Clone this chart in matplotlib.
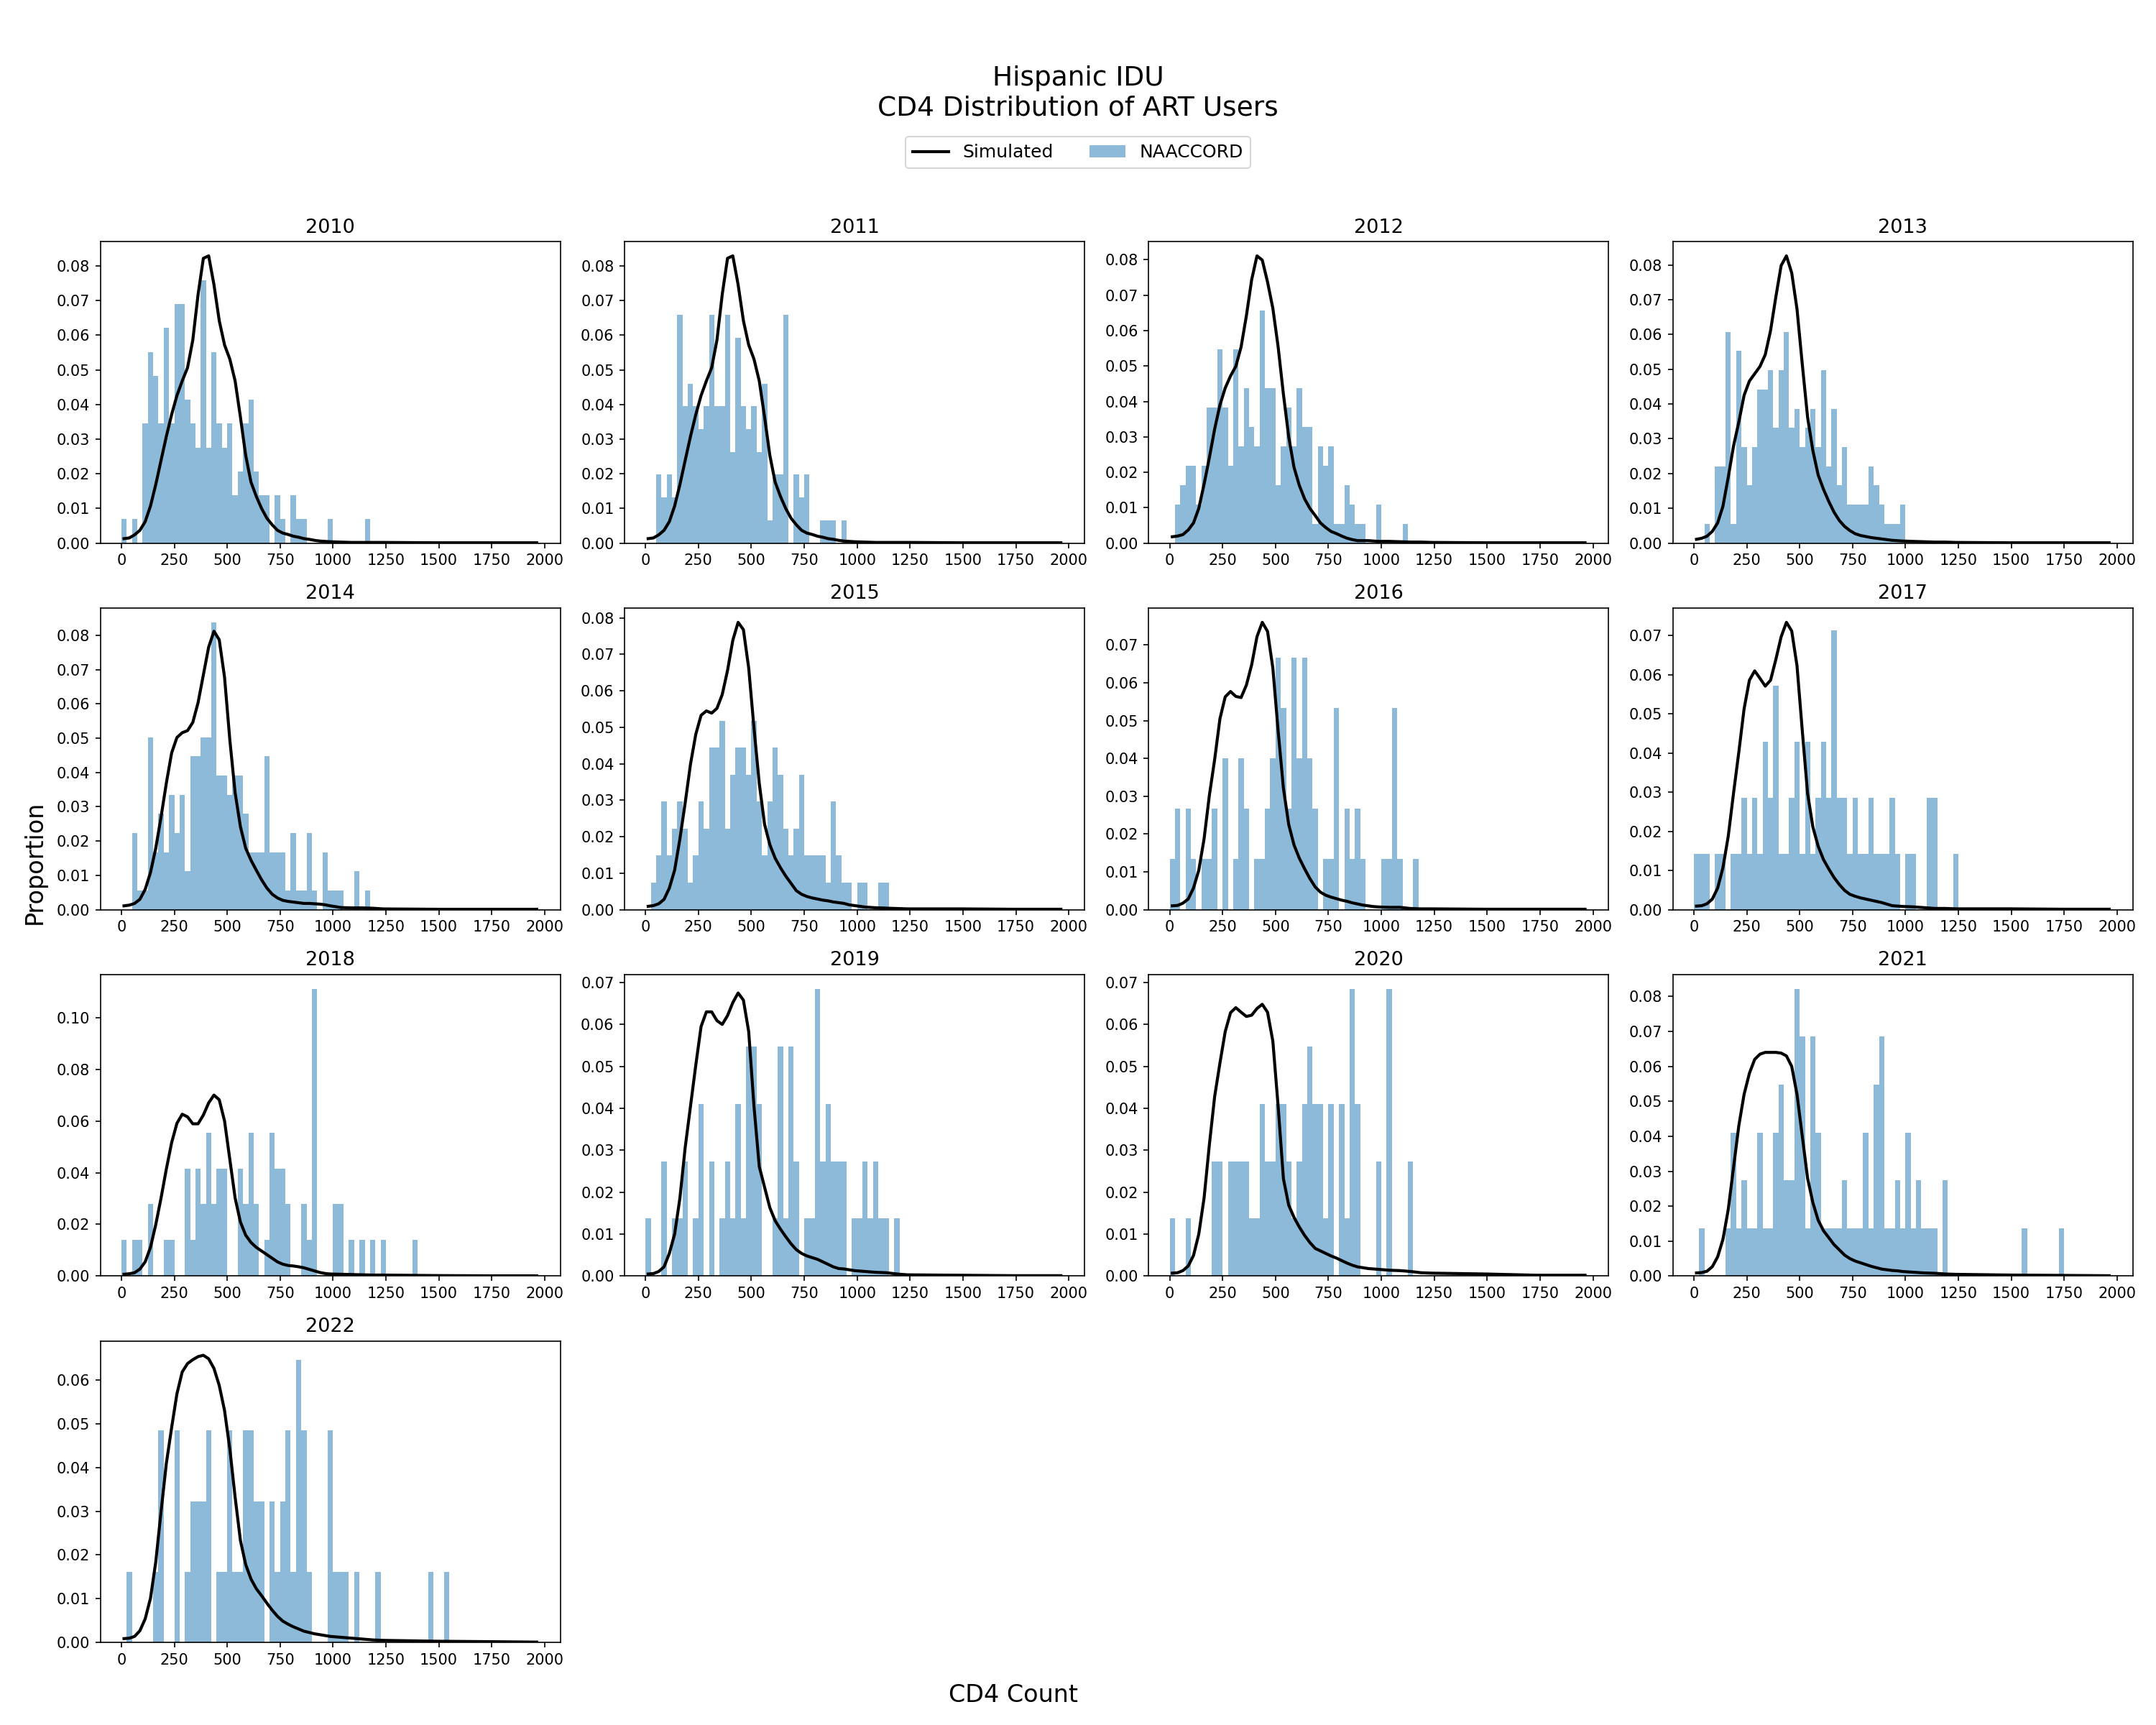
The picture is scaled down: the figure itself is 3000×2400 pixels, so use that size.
import matplotlib
matplotlib.use('Agg')
import matplotlib.pyplot as plt
import numpy as np

# ---------- DATA ----------
years = [2010, 2011, 2012, 2013, 2014, 2015, 2016, 2017, 2018, 2019, 2020, 2021, 2022]

# NAACCORD: number of patients per 25-cell CD4 bin (bin 0 = 0-25, bin 1 = 25-50, ...)
counts_2010 = [1, 0, 1, 0, 5, 8, 7, 5, 9, 5, 10, 10, 6, 5, 4, 11, 4, 8, 5, 4,
               5, 2, 3, 5, 6, 3, 2, 2, 0, 2, 1, 0, 2, 1, 1, 0, 0, 0, 0, 1,
               0, 0, 0, 0, 0, 0, 1]
counts_2011 = [0, 0, 3, 2, 3, 2, 10, 6, 7, 6, 5, 6, 10, 6, 6, 10, 4, 9, 6, 5,
               6, 4, 7, 1, 3, 3, 10, 0, 3, 2, 3, 0, 0, 1, 1, 1, 0, 1]
counts_2012 = [0, 2, 3, 4, 4, 2, 4, 7, 7, 10, 7, 4, 10, 5, 8, 6, 5, 12, 8, 8,
               3, 5, 7, 5, 8, 6, 6, 1, 5, 4, 5, 1, 1, 3, 2, 1, 1, 0, 0, 2,
               0, 0, 0, 0, 1]
counts_2013 = [0, 0, 1, 0, 4, 4, 11, 1, 10, 5, 3, 5, 8, 8, 9, 6, 9, 11, 6, 7,
               5, 6, 7, 5, 9, 4, 7, 3, 5, 2, 2, 2, 2, 4, 3, 2, 1, 1, 1, 2]
counts_2014 = [0, 0, 4, 1, 1, 9, 3, 5, 3, 6, 4, 6, 2, 8, 8, 9, 9, 15, 7, 7,
               6, 7, 7, 5, 3, 3, 3, 8, 3, 3, 3, 1, 4, 1, 1, 4, 1, 0, 3, 1,
               1, 1, 0, 0, 2, 0, 1]
counts_2015 = [0, 1, 2, 4, 2, 3, 4, 3, 1, 2, 4, 3, 6, 6, 7, 3, 5, 6, 6, 5,
               7, 4, 2, 4, 6, 5, 3, 2, 3, 5, 2, 2, 2, 2, 1, 4, 2, 1, 1, 0,
               1, 1, 0, 0, 1, 1]
counts_2016 = [1, 2, 0, 2, 1, 0, 1, 1, 2, 0, 3, 0, 1, 3, 2, 0, 1, 1, 2, 3,
               5, 4, 2, 5, 3, 5, 3, 2, 0, 1, 1, 4, 0, 2, 1, 2, 1, 0, 0, 0,
               1, 1, 4, 1, 0, 0, 1]
counts_2017 = [1, 1, 1, 0, 1, 1, 0, 1, 1, 2, 1, 2, 1, 3, 2, 4, 1, 1, 2, 3,
               1, 3, 1, 2, 3, 2, 5, 2, 2, 1, 2, 1, 1, 2, 1, 1, 1, 2, 1, 0,
               1, 1, 0, 0, 2, 2, 0, 0, 0, 1]
counts_2018 = [1, 0, 1, 1, 0, 2, 0, 0, 1, 1, 0, 0, 3, 1, 3, 2, 4, 2, 3, 3,
               0, 0, 3, 2, 4, 2, 0, 1, 4, 3, 3, 2, 0, 0, 2, 1, 8, 0, 0, 0,
               2, 2, 0, 1, 0, 1, 0, 1, 0, 1, 0, 0, 0, 0, 0, 1]
counts_2019 = [1, 0, 0, 2, 0, 1, 1, 2, 0, 1, 3, 0, 2, 0, 1, 2, 1, 3, 1, 4,
               4, 3, 0, 0, 1, 4, 1, 4, 2, 0, 1, 1, 5, 2, 3, 2, 2, 2, 0, 1,
               1, 2, 1, 2, 1, 1, 0, 1]
counts_2020 = [1, 0, 0, 1, 0, 0, 0, 0, 2, 2, 0, 2, 2, 2, 2, 1, 1, 3, 2, 2,
               3, 3, 2, 1, 2, 3, 4, 3, 3, 1, 3, 0, 3, 1, 5, 3, 0, 0, 0, 2,
               0, 5, 0, 0, 0, 2]
counts_2021 = [0, 1, 0, 0, 0, 0, 1, 3, 1, 2, 1, 1, 3, 1, 1, 3, 4, 2, 2, 6,
               5, 1, 5, 3, 1, 1, 1, 1, 2, 1, 1, 1, 3, 1, 4, 5, 1, 1, 2, 1,
               3, 1, 2, 1, 1, 1, 0, 2, 0, 0, 0, 0, 0, 0, 0, 0, 0, 0, 0, 0,
               0, 0, 1, 0, 0, 0, 0, 0, 0, 1]
counts_2022 = [0, 1, 0, 0, 0, 0, 1, 3, 0, 0, 3, 0, 1, 2, 2, 2, 3, 0, 1, 1,
               3, 1, 1, 3, 3, 2, 2, 0, 2, 1, 2, 3, 1, 4, 3, 1, 0, 0, 0, 3,
               1, 1, 1, 0, 1, 0, 0, 0, 1, 0, 0, 0, 0, 0, 0, 0, 0, 0, 1, 0,
               0, 1]

# NAACCORD patients per year (denominator of the proportions)
n_patients = [145, 152, 183, 181, 179, 135, 75, 70, 72, 73, 73, 73, 62]

# Simulated CD4 distribution, evaluated at these CD4 counts
sim_cd4 = np.r_[np.arange(12.5, 1000, 25),
                [1037.5, 1087.5, 1137.5, 1187.5, 1237.5, 1487.5, 1737.5, 1962.5]]

sim_2010 = [0.0013, 0.0015, 0.0024, 0.0037, 0.0062, 0.0107, 0.0169, 0.0239, 0.0308, 0.0371,
            0.0426, 0.0468, 0.0506, 0.0586, 0.0718, 0.0822, 0.0829, 0.0746, 0.0642, 0.0572,
            0.0531, 0.0468, 0.0364, 0.0253, 0.0176, 0.0135, 0.0100, 0.0072, 0.0053, 0.0037,
            0.0029, 0.0025, 0.0020, 0.0017, 0.0013, 0.0011, 0.0008, 0.0006, 0.0005, 0.0004,
            0.0003, 0.0002, 0.0002, 0.0002, 0.0002, 0.0001, 0.0001, 0.0001]
sim_2011 = [0.0013, 0.0015, 0.0024, 0.0037, 0.0062, 0.0107, 0.0169, 0.0239, 0.0308, 0.0371,
            0.0426, 0.0468, 0.0506, 0.0586, 0.0718, 0.0822, 0.0829, 0.0746, 0.0642, 0.0572,
            0.0531, 0.0468, 0.0364, 0.0253, 0.0176, 0.0135, 0.0100, 0.0072, 0.0053, 0.0037,
            0.0029, 0.0025, 0.0020, 0.0017, 0.0013, 0.0011, 0.0008, 0.0006, 0.0005, 0.0004,
            0.0003, 0.0002, 0.0002, 0.0002, 0.0002, 0.0001, 0.0001, 0.0001]
sim_2012 = [0.0018, 0.0020, 0.0024, 0.0037, 0.0057, 0.0098, 0.0166, 0.0241, 0.0322, 0.0390,
            0.0438, 0.0472, 0.0499, 0.0554, 0.0642, 0.0744, 0.0811, 0.0799, 0.0737, 0.0663,
            0.0554, 0.0420, 0.0300, 0.0214, 0.0163, 0.0125, 0.0098, 0.0078, 0.0057, 0.0044,
            0.0033, 0.0027, 0.0020, 0.0014, 0.0010, 0.0007, 0.0007, 0.0007, 0.0006, 0.0005,
            0.0005, 0.0004, 0.0003, 0.0003, 0.0002, 0.0001, 0.0001, 0.0001]
sim_2013 = [0.0011, 0.0014, 0.0020, 0.0034, 0.0058, 0.0106, 0.0189, 0.0279, 0.0348, 0.0425,
            0.0466, 0.0487, 0.0508, 0.0542, 0.0611, 0.0708, 0.0798, 0.0826, 0.0777, 0.0673,
            0.0514, 0.0362, 0.0266, 0.0196, 0.0155, 0.0120, 0.0089, 0.0065, 0.0048, 0.0036,
            0.0027, 0.0022, 0.0019, 0.0016, 0.0014, 0.0012, 0.0010, 0.0008, 0.0007, 0.0006,
            0.0005, 0.0004, 0.0003, 0.0003, 0.0002, 0.0001, 0.0001, 0.0001]
sim_2014 = [0.0011, 0.0013, 0.0018, 0.0030, 0.0059, 0.0108, 0.0179, 0.0270, 0.0369, 0.0457,
            0.0502, 0.0516, 0.0522, 0.0546, 0.0604, 0.0685, 0.0766, 0.0812, 0.0787, 0.0678,
            0.0495, 0.0341, 0.0242, 0.0179, 0.0144, 0.0115, 0.0087, 0.0063, 0.0045, 0.0034,
            0.0027, 0.0024, 0.0022, 0.0020, 0.0018, 0.0018, 0.0017, 0.0016, 0.0014, 0.0011,
            0.0006, 0.0005, 0.0005, 0.0004, 0.0002, 0.0001, 0.0001, 0.0001]
sim_2015 = [0.0009, 0.0011, 0.0016, 0.0028, 0.0059, 0.0108, 0.0194, 0.0293, 0.0399, 0.0481,
            0.0533, 0.0545, 0.0539, 0.0552, 0.0590, 0.0656, 0.0739, 0.0788, 0.0768, 0.0663,
            0.0498, 0.0346, 0.0234, 0.0178, 0.0141, 0.0115, 0.0092, 0.0072, 0.0052, 0.0042,
            0.0036, 0.0032, 0.0029, 0.0026, 0.0024, 0.0021, 0.0019, 0.0017, 0.0013, 0.0011,
            0.0007, 0.0005, 0.0004, 0.0003, 0.0002, 0.0002, 0.0001, 0.0001]
sim_2016 = [0.0010, 0.0011, 0.0017, 0.0028, 0.0057, 0.0104, 0.0187, 0.0302, 0.0397, 0.0505,
            0.0563, 0.0577, 0.0564, 0.0561, 0.0594, 0.0648, 0.0722, 0.0760, 0.0736, 0.0639,
            0.0473, 0.0321, 0.0225, 0.0171, 0.0136, 0.0108, 0.0082, 0.0060, 0.0046, 0.0038,
            0.0033, 0.0029, 0.0025, 0.0022, 0.0018, 0.0015, 0.0012, 0.0010, 0.0008, 0.0007,
            0.0006, 0.0006, 0.0003, 0.0002, 0.0002, 0.0001, 0.0001, 0.0001]
sim_2017 = [0.0009, 0.0010, 0.0015, 0.0027, 0.0055, 0.0107, 0.0187, 0.0297, 0.0402, 0.0513,
            0.0586, 0.0610, 0.0591, 0.0571, 0.0586, 0.0639, 0.0697, 0.0734, 0.0712, 0.0623,
            0.0457, 0.0297, 0.0211, 0.0162, 0.0128, 0.0104, 0.0082, 0.0064, 0.0049, 0.0039,
            0.0034, 0.0030, 0.0027, 0.0024, 0.0021, 0.0018, 0.0014, 0.0010, 0.0009, 0.0008,
            0.0007, 0.0005, 0.0003, 0.0003, 0.0002, 0.0002, 0.0001, 0.0001]
sim_2018 = [0.0007, 0.0009, 0.0013, 0.0027, 0.0055, 0.0111, 0.0199, 0.0302, 0.0414, 0.0516,
            0.0591, 0.0626, 0.0616, 0.0589, 0.0589, 0.0623, 0.0670, 0.0700, 0.0682, 0.0600,
            0.0451, 0.0302, 0.0209, 0.0158, 0.0130, 0.0111, 0.0097, 0.0083, 0.0069, 0.0055,
            0.0046, 0.0041, 0.0039, 0.0036, 0.0032, 0.0026, 0.0020, 0.0014, 0.0010, 0.0008,
            0.0007, 0.0006, 0.0005, 0.0004, 0.0004, 0.0002, 0.0001, 0.0001]
sim_2019 = [0.0005, 0.0006, 0.0011, 0.0022, 0.0054, 0.0100, 0.0186, 0.0307, 0.0405, 0.0503,
            0.0595, 0.0630, 0.0630, 0.0609, 0.0600, 0.0621, 0.0652, 0.0675, 0.0658, 0.0583,
            0.0405, 0.0261, 0.0212, 0.0163, 0.0132, 0.0112, 0.0094, 0.0077, 0.0063, 0.0054,
            0.0048, 0.0044, 0.0040, 0.0034, 0.0028, 0.0022, 0.0018, 0.0017, 0.0015, 0.0013,
            0.0011, 0.0009, 0.0008, 0.0005, 0.0003, 0.0002, 0.0001, 0.0001]
sim_2020 = [0.0007, 0.0008, 0.0013, 0.0024, 0.0049, 0.0100, 0.0186, 0.0313, 0.0428, 0.0508,
            0.0583, 0.0628, 0.0640, 0.0629, 0.0619, 0.0622, 0.0638, 0.0648, 0.0629, 0.0560,
            0.0405, 0.0232, 0.0169, 0.0140, 0.0117, 0.0097, 0.0080, 0.0066, 0.0060, 0.0054,
            0.0048, 0.0043, 0.0037, 0.0031, 0.0026, 0.0022, 0.0020, 0.0018, 0.0017, 0.0016,
            0.0014, 0.0013, 0.0011, 0.0008, 0.0007, 0.0005, 0.0002, 0.0002]
sim_2021 = [0.0009, 0.0010, 0.0014, 0.0027, 0.0055, 0.0105, 0.0190, 0.0310, 0.0430, 0.0520,
            0.0580, 0.0620, 0.0635, 0.0640, 0.0640, 0.0640, 0.0638, 0.0630, 0.0600, 0.0520,
            0.0400, 0.0280, 0.0210, 0.0160, 0.0130, 0.0110, 0.0090, 0.0075, 0.0060, 0.0050,
            0.0043, 0.0038, 0.0033, 0.0028, 0.0024, 0.0020, 0.0018, 0.0016, 0.0015, 0.0013,
            0.0011, 0.0009, 0.0008, 0.0006, 0.0005, 0.0003, 0.0002, 0.0001]
sim_2022 = [0.0009, 0.0010, 0.0014, 0.0027, 0.0054, 0.0101, 0.0184, 0.0299, 0.0409, 0.0491,
            0.0568, 0.0618, 0.0637, 0.0646, 0.0653, 0.0656, 0.0648, 0.0626, 0.0587, 0.0530,
            0.0442, 0.0332, 0.0233, 0.0178, 0.0145, 0.0123, 0.0107, 0.0090, 0.0074, 0.0060,
            0.0049, 0.0042, 0.0036, 0.0031, 0.0026, 0.0023, 0.0020, 0.0018, 0.0016, 0.0014,
            0.0012, 0.0010, 0.0008, 0.0006, 0.0005, 0.0003, 0.0002, 0.0001]

all_counts = [counts_2010, counts_2011, counts_2012, counts_2013, counts_2014, counts_2015,
              counts_2016, counts_2017, counts_2018, counts_2019, counts_2020, counts_2021,
              counts_2022]
all_sims = [sim_2010, sim_2011, sim_2012, sim_2013, sim_2014, sim_2015, sim_2016,
            sim_2017, sim_2018, sim_2019, sim_2020, sim_2021, sim_2022]

bin_width = 25
cd4_edges = np.arange(0, 2000, bin_width)
cd4_centers = cd4_edges[:-1] + bin_width / 2

# ---------- PLOTTING ----------
fig, axes = plt.subplots(4, 4, figsize=(20, 16))
fig.subplots_adjust(left=0.0466, right=0.9892, top=0.860, bottom=0.0478,
                    wspace=0.14, hspace=0.215)

for i, ax in enumerate(axes.flat):
    if i >= len(years):
        ax.axis('off')
        continue
    counts = np.zeros(len(cd4_centers))
    counts[:len(all_counts[i])] = all_counts[i]
    _, _, bars = ax.hist(cd4_centers, bins=cd4_edges, weights=counts / n_patients[i],
                         color='#1f77b4', alpha=0.5, label='NAACCORD')
    line, = ax.plot(sim_cd4, all_sims[i], color='black', lw=2, label='Simulated')
    ax.set_title(str(years[i]), fontsize=13)
    ax.set_xticks(np.arange(0, 2001, 250))

fig.legend(handles=[line, bars], labels=['Simulated', 'NAACCORD'], loc='center',
           bbox_to_anchor=(0.5, 0.9115), ncol=2, fontsize=12)
fig.suptitle('Hispanic IDU\nCD4 Distribution of ART Users', fontsize=18, y=0.962)
fig.text(0.016, 0.5, 'Proportion', rotation=90, ha='center', va='center', fontsize=16)
fig.text(0.47, 0.0175, 'CD4 Count', ha='center', va='center', fontsize=16)

fig.savefig('out.png', dpi=150)
